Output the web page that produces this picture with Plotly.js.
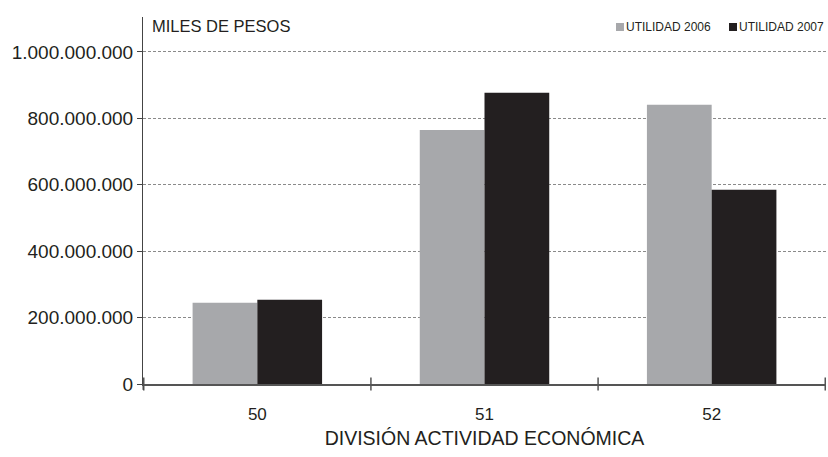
<!DOCTYPE html>
<html><head><meta charset="utf-8">
<script src="https://cdn.plot.ly/plotly-3.0.1.min.js"></script>
<style>body{margin:0;background:#fff}#c{width:828px;height:457px}</style>
</head><body><div id="c"></div>
<script>
var categories = ['50', '51', '52'];
var utilidad2006 = [245000000, 765000000, 841000000];
var utilidad2007 = [254000000, 877000000, 585000000];
var yTicks = [0, 200000000, 400000000, 600000000, 800000000, 1000000000];
var seriesNames = ['UTILIDAD 2006', 'UTILIDAD 2007'];
var seriesColors = ['#a7a8ab', '#231f20'];

var F = '"Liberation Sans", Arial, sans-serif';
var data = [
  {type: 'bar', x: categories, y: utilidad2006, name: seriesNames[0], marker: {color: seriesColors[0]}},
  {type: 'bar', x: categories, y: utilidad2007, name: seriesNames[1], marker: {color: seriesColors[1]}}
];
var shapes = [];
for (var i = 0; i <= categories.length; i++) {
  shapes.push({type: 'line', xref: 'x', yref: 'paper', x0: i - 0.5, x1: i - 0.5, y0: -0.018, y1: 0.018,
    line: {color: '#555', width: 1.5}});
}
// y axis line slightly extended below zero
shapes.push({type: 'line', xref: 'paper', yref: 'paper', x0: 0, x1: 0, y0: -0.016, y1: 0,
  line: {color: '#444', width: 1}});
var annotations = [{text: 'MILES DE PESOS', xref: 'paper', yref: 'paper', x: 0, y: 0.9755, xanchor: 'left', yanchor: 'middle',
    xshift: 7, showarrow: false, font: {size: 16.5}}];
// custom legend
var legX = [0.6925, 0.858];
for (var k = 0; k < seriesNames.length; k++) {
  shapes.push({type: 'rect', xref: 'paper', yref: 'paper', x0: legX[k], x1: legX[k] + 0.0117, y0: 0.9619, y1: 0.9837,
    fillcolor: seriesColors[k], line: {width: 0}});
  annotations.push({text: seriesNames[k], xref: 'paper', yref: 'paper', x: legX[k] + 0.0135, y: 0.9736,
    xanchor: 'left', yanchor: 'middle', showarrow: false, borderpad: 0, font: {size: 12}});
}
var layout = {
  width: 828, height: 457,
  margin: {l: 143, r: 2, t: 17, b: 73, autoexpand: false},
  paper_bgcolor: '#fff', plot_bgcolor: '#fff',
  separators: ',.',
  font: {family: F, color: '#231f20', size: 19},
  barmode: 'group', bargap: 0.43, bargroupgap: 0,
  showlegend: false,
  xaxis: {type: 'category', showgrid: false, showline: true, linecolor: '#555', linewidth: 2,
    ticks: 'outside', ticklen: 14, tickcolor: 'rgba(0,0,0,0)', tickfont: {size: 17}, zeroline: false,
    title: {text: 'DIVISIÓN ACTIVIDAD ECONÓMICA', font: {size: 19.5}, standoff: 8}},
  yaxis: {range: [0, 1105000000], tickvals: yTicks, tickformat: ',d',
    showgrid: true, gridcolor: '#8a8a8a', griddash: '3px,2px', gridwidth: 1,
    showline: true, linecolor: '#444', linewidth: 1, zeroline: false,
    ticks: 'outside', ticklen: 5, tickcolor: '#444', tickfont: {size: 19}},
  shapes: shapes,
  annotations: annotations
};
Plotly.newPlot('c', data, layout, {displayModeBar: false});
</script></body></html>
